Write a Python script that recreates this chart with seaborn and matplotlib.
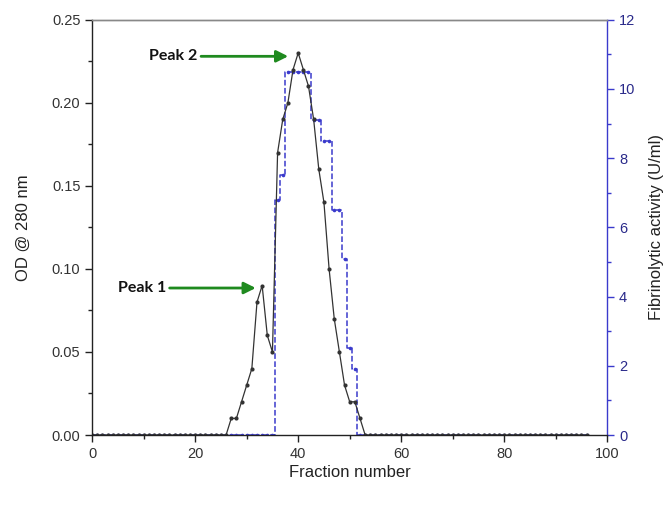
import matplotlib
matplotlib.use("Agg")
import matplotlib.pyplot as plt
import seaborn as sns
import numpy as np
from matplotlib.ticker import MultipleLocator

fractions = list(range(0, 97))
od = [0, 0, 0, 0, 0, 0, 0, 0, 0, 0,
      0, 0, 0, 0, 0, 0, 0, 0, 0, 0,
      0, 0, 0, 0, 0, 0, 0, 0.01, 0.01, 0.02,
      0.03, 0.04, 0.08, 0.09, 0.06, 0.05, 0.17, 0.19, 0.20, 0.22,
      0.23, 0.22, 0.21, 0.19, 0.16, 0.14, 0.10, 0.07, 0.05, 0.03,
      0.02, 0.02, 0.01, 0, 0, 0, 0, 0, 0, 0,
      0, 0, 0, 0, 0, 0, 0, 0, 0, 0,
      0, 0, 0, 0, 0, 0, 0, 0, 0, 0,
      0, 0, 0, 0, 0, 0, 0, 0, 0, 0,
      0, 0, 0, 0, 0, 0, 0]
activity = [0, 0, 0, 0, 0, 0, 0, 0, 0, 0,
            0, 0, 0, 0, 0, 0, 0, 0, 0, 0,
            0, 0, 0, 0, 0, 0, 0, 0, 0, 0,
            0, 0, 0, 0, 0, 0, 6.8, 7.5, 10.5, 10.5,
            10.5, 10.5, 10.5, 9.1, 9.1, 8.5, 8.5, 6.5, 6.5, 5.1,
            2.5, 1.9, 0, 0, 0, 0, 0, 0, 0, 0,
            0, 0, 0, 0, 0, 0, 0, 0, 0, 0,
            0, 0, 0, 0, 0, 0, 0, 0, 0, 0,
            0, 0, 0, 0, 0, 0, 0, 0, 0, 0,
            0, 0, 0, 0, 0, 0, 0]

peak_labels = ["Peak 1", "Peak 2"]
peak_x = [33, 40]
peak_y = [0.09, 0.23]

sns.set_style("ticks")
plt.rcParams['font.family'] = ['Liberation Sans', 'DejaVu Sans']

blue = "#3a3acc"
fig = plt.figure(figsize=(6.68, 5.07), dpi=100)
ax = fig.add_axes([0.138, 0.142, 0.771, 0.819])
ax2 = ax.twinx()

sns.lineplot(x=fractions, y=activity, ax=ax2, color=blue, lw=1.1, ls="--",
             marker="o", markersize=2.6, markeredgewidth=0, estimator=None,
             drawstyle="steps-mid")
sns.lineplot(x=fractions, y=od, ax=ax, color="#333333", lw=0.9,
             marker="o", markersize=3.0, markeredgewidth=0, estimator=None)

ax.set_xlim(0, 100)
ax.set_ylim(0, 0.25)
ax2.set_ylim(0, 12)
ax.xaxis.set_major_locator(MultipleLocator(20))
ax.xaxis.set_minor_locator(MultipleLocator(10))
ax.yaxis.set_major_locator(MultipleLocator(0.05))
ax.yaxis.set_minor_locator(MultipleLocator(0.025))
ax2.yaxis.set_major_locator(MultipleLocator(2))
ax2.yaxis.set_minor_locator(MultipleLocator(1))
ax.yaxis.set_major_formatter(matplotlib.ticker.FormatStrFormatter('%.2f'))

for a in (ax, ax2):
    for s in a.spines.values():
        s.set_linewidth(1.0)
ax.spines['top'].set_color('#888888')
ax2.spines['top'].set_color('#888888')
ax.spines['left'].set_color('#222222')
ax.spines['bottom'].set_color('#222222')
ax2.spines['right'].set_color(blue)
ax2.spines['left'].set_visible(False)
ax2.spines['bottom'].set_visible(False)
ax.spines['right'].set_visible(False)

ax.tick_params(axis='both', which='major', direction='out', length=5, width=1,
               labelsize=10.5, colors='#222222', labelcolor='#333333')
ax.tick_params(axis='both', which='minor', direction='out', length=3, width=1, colors='#222222')
ax2.tick_params(axis='y', which='major', direction='out', length=5, width=1,
                labelsize=10.5, colors=blue, labelcolor='#2a2a8a')
ax2.tick_params(axis='y', which='minor', direction='out', length=3, width=1, colors=blue)

ax.set_xlabel("Fraction number", fontsize=12, color='#222222', labelpad=3)
ax.set_ylabel("OD @ 280 nm", fontsize=12, color='#222222', labelpad=15)
ax2.set_ylabel("Fibrinolytic activity (U/ml)", fontsize=12, color='#222222', labelpad=10)

green = "#1f8a1f"
ax.annotate("", xy=(peak_x[0] - 0.7, peak_y[0] - 0.0015), xytext=(14.5, peak_y[0] - 0.0015),
            arrowprops=dict(arrowstyle="-|>,head_length=0.7,head_width=0.35", color=green, lw=2))
ax.text(14.4, peak_y[0] - 0.0015, peak_labels[0], ha='right', va='center',
        fontsize=11.5, fontweight='bold', family=['Lato', 'DejaVu Sans'], color='#111111')
ax.annotate("", xy=(peak_x[1] - 1.4, peak_y[1] - 0.002), xytext=(20.6, peak_y[1] - 0.002),
            arrowprops=dict(arrowstyle="-|>,head_length=0.7,head_width=0.35", color=green, lw=2))
ax.text(20.4, peak_y[1] - 0.002, peak_labels[1], ha='right', va='center',
        fontsize=11.5, fontweight='bold', family=['Lato', 'DejaVu Sans'], color='#111111')

ax.set_zorder(ax2.get_zorder() + 1)
ax.patch.set_visible(False)

fig.savefig("out.png", dpi=100)
